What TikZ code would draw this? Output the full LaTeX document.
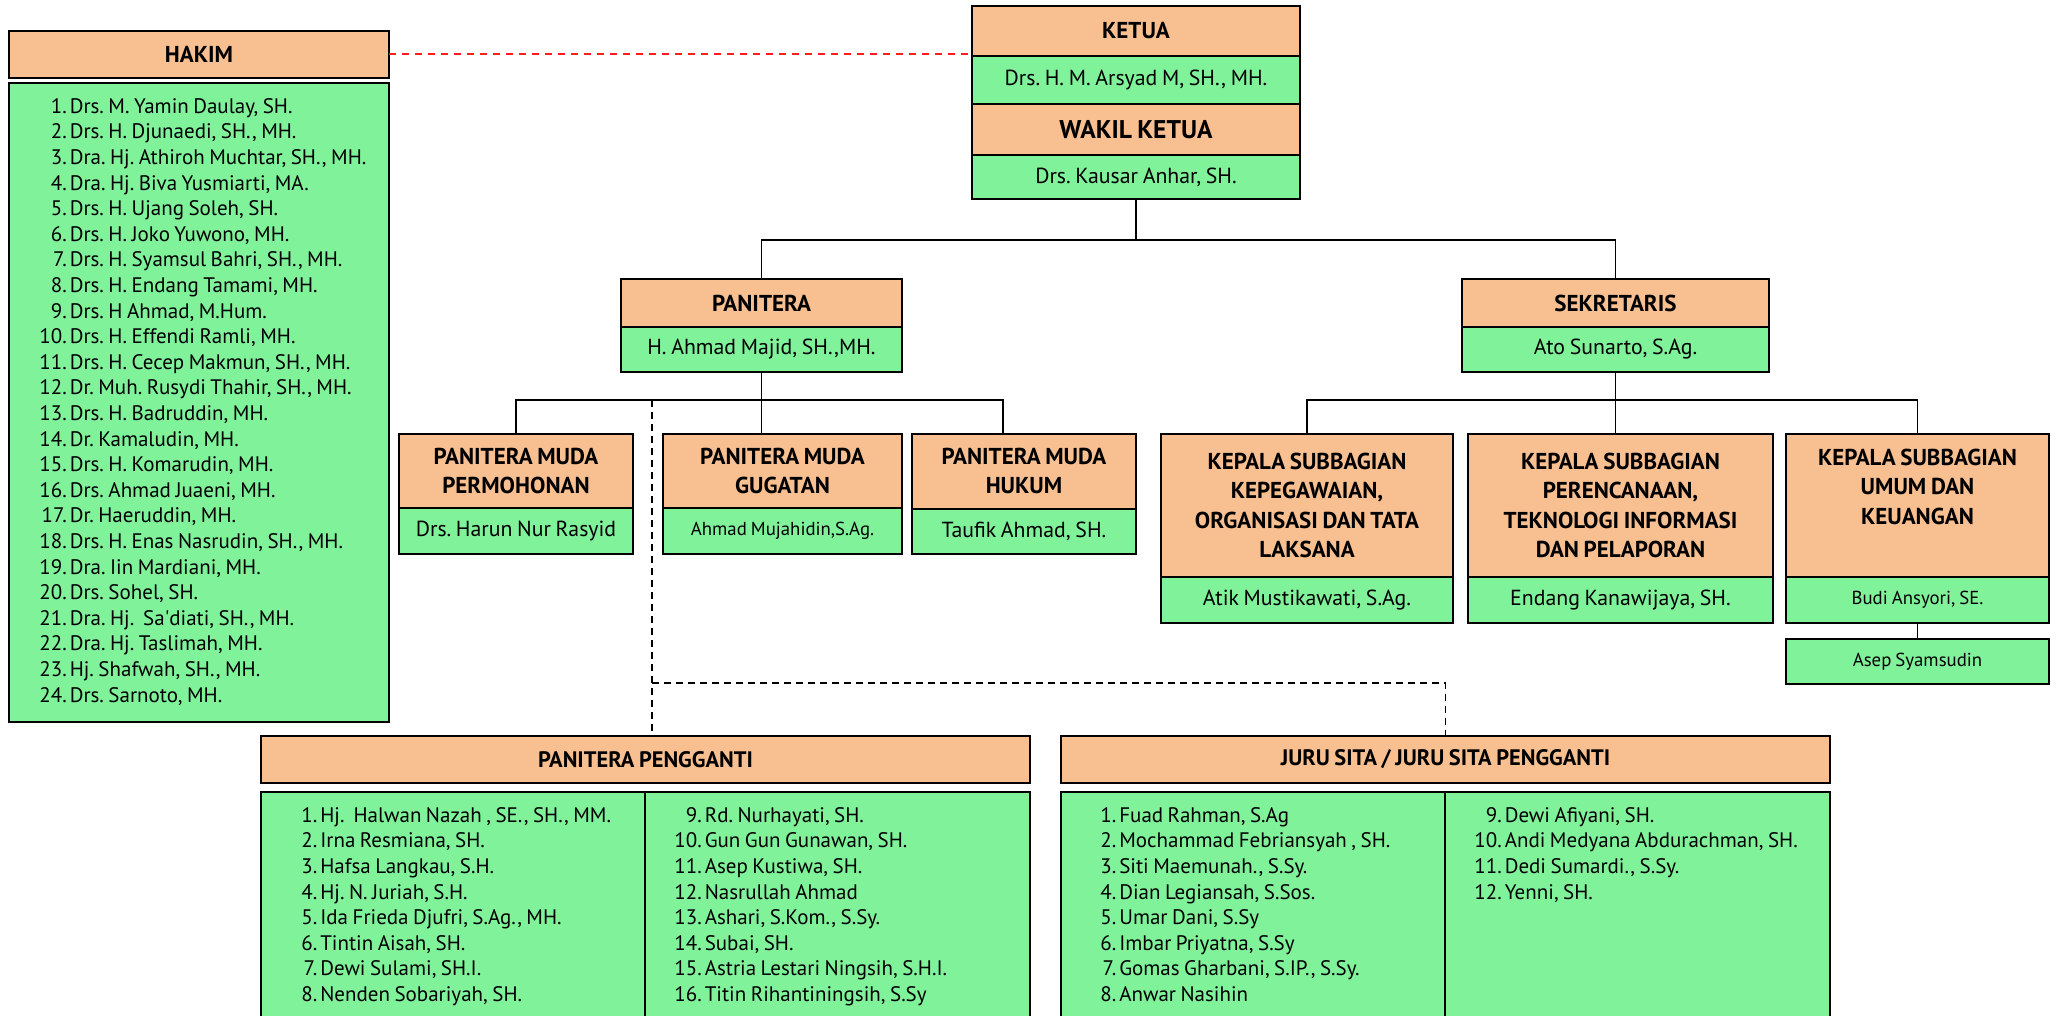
\documentclass[tikz,border=0pt]{standalone}
\usepackage{fontspec}
\setmainfont{PT Sans}[WordSpace=0.8]
\usetikzlibrary{positioning}

\definecolor{hdrorange}{RGB}{248,192,145}
\definecolor{namegreen}{RGB}{128,242,154}
\definecolor{linkred}{RGB}{255,30,30}

\tikzset{
  hdr/.style={draw, line width=1pt, fill=hdrorange, inner sep=0pt, outer sep=0pt,
    align=center, font=\fontsize{11.5}{14.7}\selectfont\bfseries},
  nm/.style={draw, line width=1pt, fill=namegreen, inner sep=0pt, outer sep=0pt,
    font=\fontsize{10.9}{12.8}\selectfont},
  smallnm/.style={nm, font=\fontsize{9.4}{11}\selectfont},
  lst/.style={inner sep=0pt, anchor=north west, font=\fontsize{10.5}{12.8}\selectfont},
  conn/.style={line width=0.8pt},
  dashline/.style={line width=0.8pt, dash pattern=on 3.5pt off 2.5pt},
}

\begin{document}
\frenchspacing
\begin{tikzpicture}[x=0.5pt, y=-0.5pt]
  \useasboundingbox (0,0) rectangle (2056,1016);
  \coordinate (bar1) at (0,240);
  \coordinate (bar2) at (0,400);
  \coordinate (dsplit) at (652,683);

  % HAKIM
  \node[hdr, minimum width=190pt, minimum height=23.5pt] (hakim) at (199,54.5) {HAKIM};
  \node[nm, minimum width=190pt, minimum height=319.5pt, below=2.5pt of hakim] (hakimbox) {};
  \node[lst] (hakimlist) at (39,95) {\begin{tabular}{@{}r@{\hspace{1.5pt}}l@{}}
    1. & Drs. M. Yamin Daulay, SH.\\
    2. & Drs. H. Djunaedi, SH., MH.\\
    3. & Dra. Hj. Athiroh Muchtar, SH., MH.\\
    4. & Dra. Hj. Biva Yusmiarti, MA.\\
    5. & Drs. H. Ujang Soleh, SH.\\
    6. & Drs. H. Joko Yuwono, MH.\\
    7. & Drs. H. Syamsul Bahri, SH., MH.\\
    8. & Drs. H. Endang Tamami, MH.\\
    9. & Drs. H Ahmad, M.Hum.\\
    10. & Drs. H. Effendi Ramli, MH.\\
    11. & Drs. H. Cecep Makmun, SH., MH.\\
    12. & Dr. Muh. Rusydi Thahir, SH., MH.\\
    13. & Drs. H. Badruddin, MH.\\
    14. & Dr. Kamaludin, MH.\\
    15. & Drs. H. Komarudin, MH.\\
    16. & Drs. Ahmad Juaeni, MH.\\
    17. & Dr. Haeruddin, MH.\\
    18. & Drs. H. Enas Nasrudin, SH., MH.\\
    19. & Dra. Iin Mardiani, MH.\\
    20. & Drs. Sohel, SH.\\
    21. & Dra. Hj.\ \ Sa\textquotesingle diati, SH., MH.\\
    22. & Dra. Hj. Taslimah, MH.\\
    23. & Hj. Shafwah, SH., MH.\\
    24. & Drs. Sarnoto, MH.
  \end{tabular}};

  % Ketua and Wakil Ketua
  \node[hdr, minimum width=164pt, minimum height=25pt] (ketua) at (1136,31) {KETUA};
  \node[nm, minimum width=164pt, minimum height=24pt, below=0pt of ketua] (ketuanm) {Drs. H. M. Arsyad M, SH., MH.};
  \node[hdr, minimum width=164pt, minimum height=25.5pt, below=0pt of ketuanm,
    font=\fontsize{12.8}{15}\selectfont\bfseries] (wakil) {WAKIL KETUA};
  \node[nm, minimum width=164pt, minimum height=22pt, below=0pt of wakil] (wakilnm) {Drs. Kausar Anhar, SH.};

  \draw[linkred, line width=1pt, dash pattern=on 3.5pt off 3pt] (hakim.east) -- (hakim.east -| ketua.west);

  % Panitera and Sekretaris
  \node[hdr, minimum width=140.5pt, minimum height=24pt] (panitera) at (761.5,303) {PANITERA};
  \node[nm, minimum width=140.5pt, minimum height=22.5pt, below=0pt of panitera] (paniteranm) {H. Ahmad Majid, SH.,MH.};
  \node[hdr, minimum width=153.5pt, minimum height=24pt] (sekretaris) at (1615.5,303) {SEKRETARIS};
  \node[nm, minimum width=153.5pt, minimum height=22.5pt, below=0pt of sekretaris] (sekretarisnm) {Ato Sunarto, S.Ag.};

  \draw[conn] (wakilnm.south) -- (wakilnm.south |- bar1) -| (panitera.north);
  \draw[conn] (wakilnm.south |- bar1) -| (sekretaris.north);

  % Panitera Muda
  \node[hdr, minimum width=117pt, minimum height=37pt] (permohonan) at (516,471) {PANITERA MUDA\\PERMOHONAN};
  \node[nm, minimum width=117pt, minimum height=23pt, below=0pt of permohonan] (permohonannm) {Drs. Harun Nur Rasyid};
  \node[hdr, minimum width=119.5pt, minimum height=37pt] (gugatan) at (782.5,471) {PANITERA MUDA\\GUGATAN};
  \node[smallnm, minimum width=119.5pt, minimum height=23pt, below=0pt of gugatan] (gugatannm) {Ahmad Mujahidin,S.Ag.};
  \node[hdr, minimum width=112pt, minimum height=37.5pt] (hukum) at (1024,471) {PANITERA MUDA\\HUKUM};
  \node[nm, minimum width=112pt, minimum height=22.5pt, below=0pt of hukum] (hukumnm) {Taufik Ahmad, SH.};

  \draw[conn] (paniteranm.south) -- (paniteranm.south |- bar2) -| (permohonan.north);
  \draw[conn] (paniteranm.south |- bar2) -| ([xshift=-10.5pt]hukum.north);
  \draw[conn] (paniteranm.south |- bar2) -- (paniteranm.south |- gugatan.north);

  % Kepala Subbagian
  \node[hdr, minimum width=146pt, minimum height=71.5pt] (ks1) at (1307,505.5) {KEPALA SUBBAGIAN\\KEPEGAWAIAN,\\ORGANISASI DAN TATA\\LAKSANA};
  \node[nm, minimum width=146pt, minimum height=23pt, below=0pt of ks1] (ks1nm) {Atik Mustikawati, S.Ag.};
  \node[hdr, minimum width=152.5pt, minimum height=71.5pt] (ks2) at (1620.5,505.5) {KEPALA SUBBAGIAN\\PERENCANAAN,\\TEKNOLOGI INFORMASI\\DAN PELAPORAN};
  \node[nm, minimum width=152.5pt, minimum height=23pt, below=0pt of ks2] (ks2nm) {Endang Kanawijaya, SH.};
  \node[hdr, minimum width=131.5pt, minimum height=71.5pt] (ks3) at (1917.5,505.5) {KEPALA SUBBAGIAN\\UMUM DAN\\KEUANGAN\\\strut};
  \node[smallnm, minimum width=131.5pt, minimum height=23pt, below=0pt of ks3] (ks3nm) {Budi Ansyori, SE.};
  \node[smallnm, minimum width=131.5pt, minimum height=22.5pt, below=8pt of ks3nm] (asep) {Asep Syamsudin};

  \draw[conn] (sekretarisnm.south) -- (sekretarisnm.south |- bar2) -| (ks1.north);
  \draw[conn] (sekretarisnm.south |- bar2) -| (ks3.north);
  \draw[conn] (sekretarisnm.south |- bar2) -- (sekretarisnm.south |- ks2.north);
  \draw[conn] (ks3nm.south) -- (asep.north);

  % Panitera Pengganti and Juru Sita
  \node[hdr, minimum width=384.5pt, minimum height=23.5pt, font=\fontsize{11.2}{14}\selectfont\bfseries] (pp) at (645.5,759.5) {PANITERA PENGGANTI};
  \node[nm, minimum width=192pt, minimum height=114pt] (ppl) at (453,906) {};
  \node[nm, minimum width=192.5pt, minimum height=114pt] (ppr) at (837.5,906) {};
  \node[hdr, minimum width=384.5pt, minimum height=23.5pt, font=\fontsize{11.2}{14}\selectfont\bfseries] (js) at (1445.5,759.5) {JURU SITA / JURU SITA PENGGANTI};
  \node[nm, minimum width=192pt, minimum height=114pt] (jsl) at (1253,906) {};
  \node[nm, minimum width=192.5pt, minimum height=114pt] (jsr) at (1637.5,906) {};

  \draw[dashline] (dsplit |- bar2) -- (dsplit |- pp.north);
  \draw[dashline] (dsplit) -| (js.north);

  \node[lst] (ppltext) at (301,804) {\begin{tabular}{@{}r@{\hspace{1.5pt}}l@{}}
    1. & Hj.\ \ Halwan Nazah , SE., SH., MM.\\
    2. & Irna Resmiana, SH.\\
    3. & Hafsa Langkau, S.H.\\
    4. & Hj. N. Juriah, S.H.\\
    5. & Ida Frieda Djufri, S.Ag., MH.\\
    6. & Tintin Aisah, SH.\\
    7. & Dewi Sulami, SH.I.\\
    8. & Nenden Sobariyah, SH.
  \end{tabular}};
  \node[lst] (pprtext) at (674,804) {\begin{tabular}{@{}r@{\hspace{1.5pt}}l@{}}
    9. & Rd. Nurhayati, SH.\\
    10. & Gun Gun Gunawan, SH.\\
    11. & Asep Kustiwa, SH.\\
    12. & Nasrullah Ahmad\\
    13. & Ashari, S.Kom., S.Sy.\\
    14. & Subai, SH.\\
    15. & Astria Lestari Ningsih, S.H.I.\\
    16. & Titin Rihantiningsih, S.Sy
  \end{tabular}};
  \node[lst] (jsltext) at (1100,804) {\begin{tabular}{@{}r@{\hspace{1.5pt}}l@{}}
    1. & Fuad Rahman, S.Ag\\
    2. & Mochammad Febriansyah , SH.\\
    3. & Siti Maemunah., S.Sy.\\
    4. & Dian Legiansah, S.Sos.\\
    5. & Umar Dani, S.Sy\\
    6. & Imbar Priyatna, S.Sy\\
    7. & Gomas Gharbani, S.IP., S.Sy.\\
    8. & Anwar Nasihin
  \end{tabular}};
  \node[lst] (jsrtext) at (1474,804) {\begin{tabular}{@{}r@{\hspace{1.5pt}}l@{}}
    9. & Dewi Afiyani, SH.\\
    10. & Andi Medyana Abdurachman, SH.\\
    11. & Dedi Sumardi., S.Sy.\\
    12. & Yenni, SH.
  \end{tabular}};
\end{tikzpicture}
\end{document}
